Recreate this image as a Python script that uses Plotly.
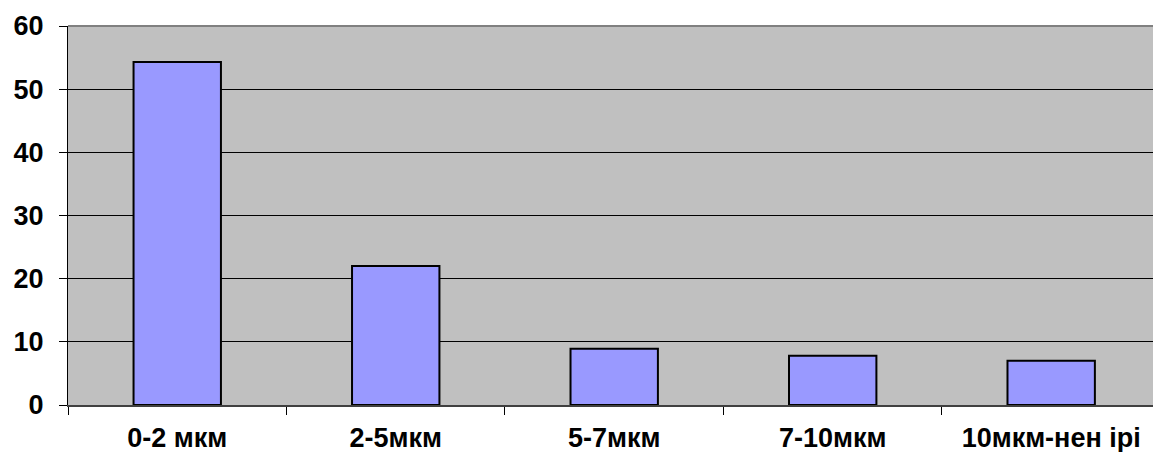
import plotly.graph_objects as go

categories = ["0-2 мкм", "2-5мкм", "5-7мкм", "7-10мкм", "10мкм-нен ірі"]
values = [54.3, 22.0, 8.9, 7.8, 7.0]
y_ticks = [0, 10, 20, 30, 40, 50, 60]

font_family = "Liberation Sans, Arial, sans-serif"

fig = go.Figure()
fig.add_trace(go.Bar(
    x=categories, y=values, width=0.4,
    marker=dict(color="#9999ff", line=dict(color="#000000", width=2)),
))

fig.update_layout(
    width=1153, height=452,
    margin=dict(l=68, r=0, t=26, b=47),
    paper_bgcolor="white", plot_bgcolor="#c0c0c0",
    showlegend=False,
    font=dict(family=font_family, color="black"),
)
fig.update_xaxes(
    type="category", range=[-0.5, 4.466],
    tickson="boundaries", ticks="outside", ticklen=8, tickcolor="#000000", tickwidth=1,
    showline=True, linecolor="#404040", linewidth=2,
    showgrid=False, ticklabelstandoff=8,
    tickfont=dict(size=27, family=font_family, weight="bold"),
)
fig.update_yaxes(
    range=[0, 60], tickvals=y_ticks,
    ticks="outside", ticklen=8, tickcolor="#000000",
    showline=True, linecolor="#000000", linewidth=1,
    showgrid=True, gridcolor="#000000", gridwidth=1, zeroline=False,
    ticklabelstandoff=10,
    tickfont=dict(size=27, family=font_family, weight="bold"),
)
fig.add_shape(type="line", xref="paper", yref="paper", x0=0, x1=1, y0=1, y1=1,
              line=dict(color="#808080", width=2))

fig.write_html(
    "out.html",
    config={"displayModeBar": False},
    post_script="document.body.style.margin='0';document.body.style.overflow='hidden';",
)
